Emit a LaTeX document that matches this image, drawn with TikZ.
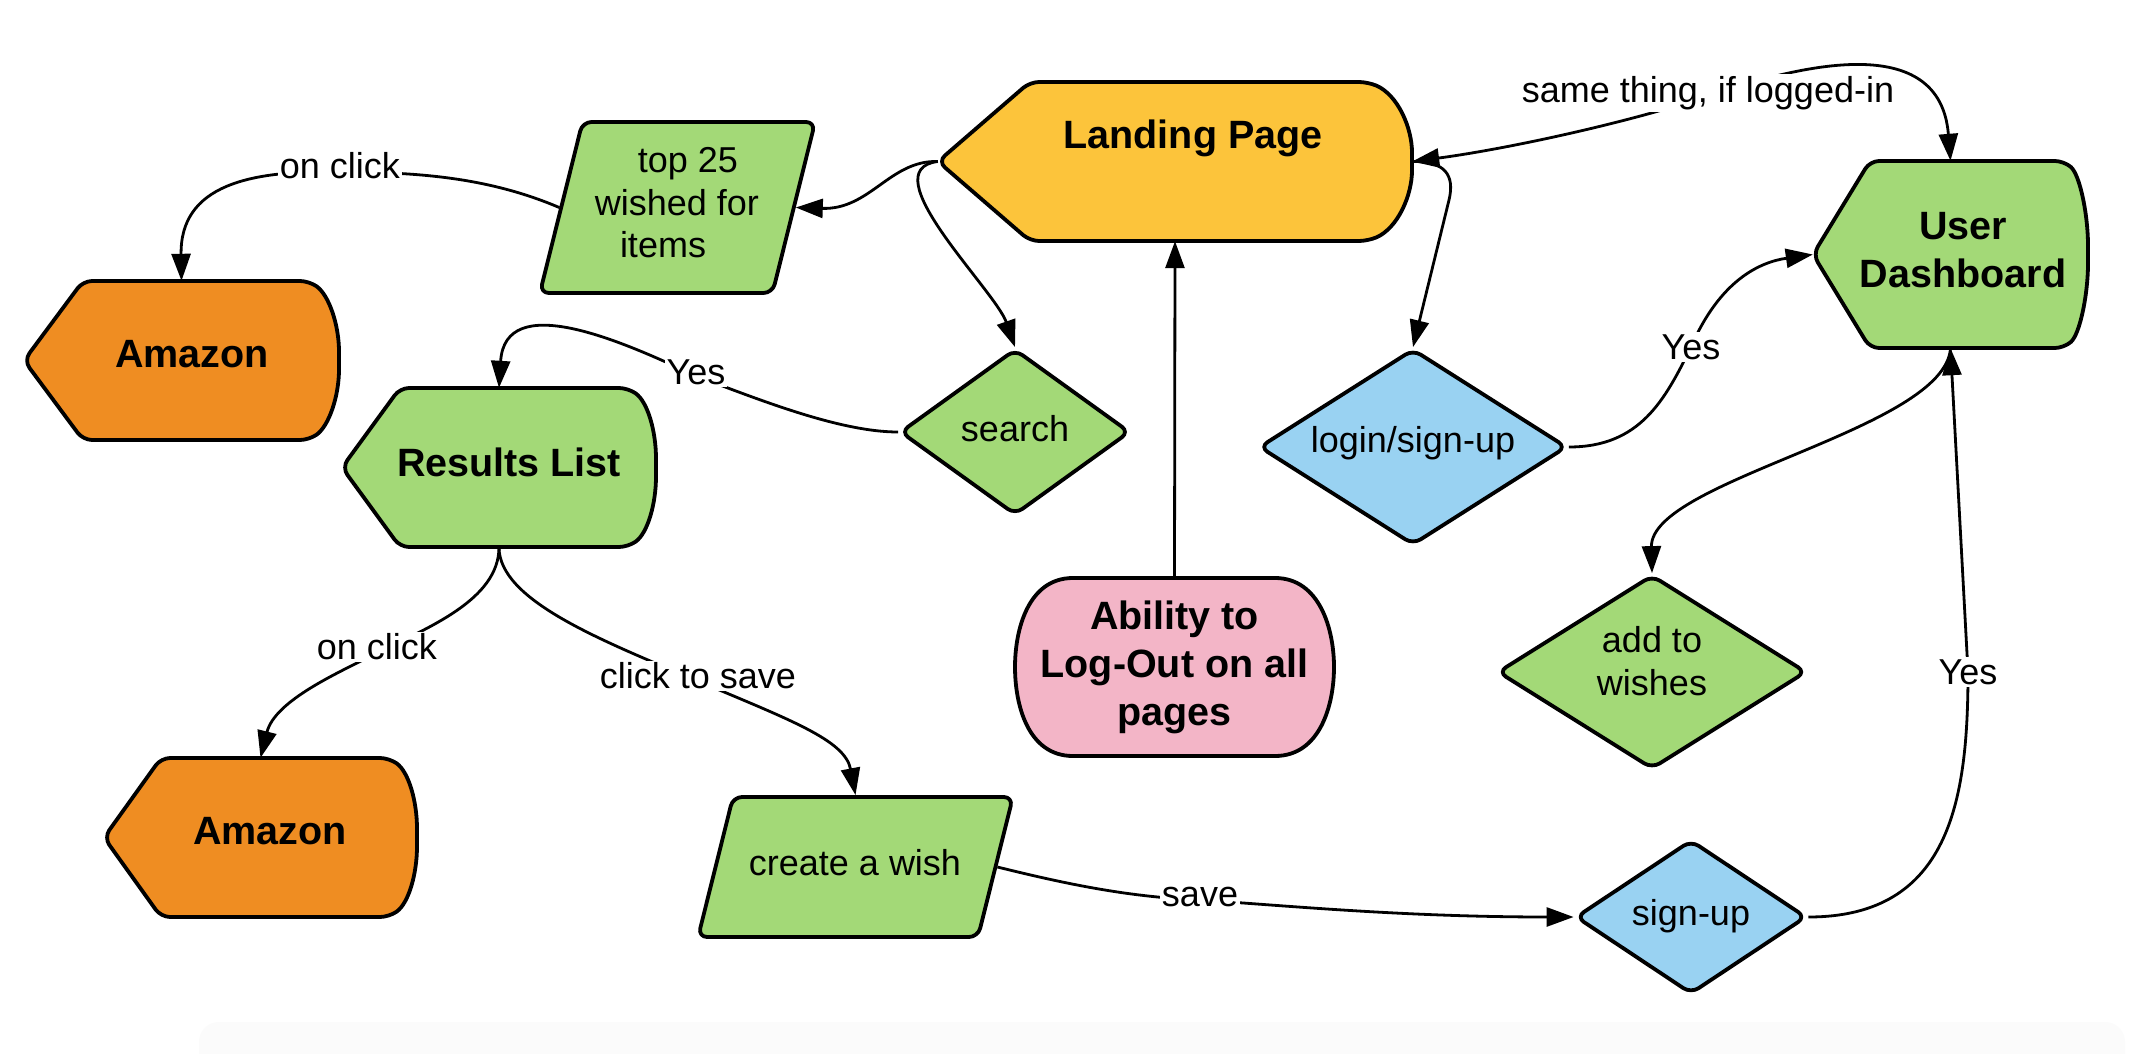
\documentclass[tikz,border=0pt]{standalone}
\usepackage{fontspec}
\setmainfont{Liberation Sans}
\usetikzlibrary{shapes.geometric,arrows.meta}
\definecolor{cyellow}{HTML}{FCC43B}
\definecolor{cgreen}{HTML}{A3D977}
\definecolor{corange}{HTML}{EF8D22}
\definecolor{cblue}{HTML}{99D2F2}
\definecolor{cpink}{HTML}{F3B5C7}
\begin{document}
\begin{tikzpicture}[x=1pt,y=-1pt,
  outline/.style={draw=black, line width=3.8pt, line join=round, rounded corners=9pt},
  box/.style={draw=none, inner sep=0pt, rectangle},
  title/.style={font=\fontsize{39.5}{48}\selectfont\bfseries, align=center, inner sep=0pt},
  body/.style={font=\fontsize{36}{42.5}\selectfont, align=center, inner sep=0pt},
  dia/.style={diamond, outline, inner sep=0pt},
  para/.style={trapezium, trapezium left angle=76, trapezium right angle=104, outline, inner sep=0pt},
  conn/.style={draw=black, line width=2.8pt, -{Triangle[length=27pt,width=19pt]}},
  lbl/.style={font=\fontsize{36}{42}\selectfont, fill=white, inner sep=2pt},
]
\useasboundingbox[fill=white] (0,0) rectangle (2150,1054);
\fill[black!1.5, rounded corners=20pt] (199,1022) rectangle (2125,1080);

% ---------- shapes ----------
% Landing Page
\draw[outline, fill=cyellow] (938,161.5) -- (1030,82) -- (1368,82) .. controls (1398,95) and (1412,128) .. (1412,161.5) .. controls (1412,195) and (1398,228) .. (1368,241) -- (1030,241) -- cycle;
\node[box, minimum width=474pt, minimum height=159pt] (lp) at (1175,161.5) {};
\node[title] (lpt) at (1193,138) {Landing Page};

% User Dashboard
\draw[outline, fill=cgreen] (1813,254.5) -- (1870,161) -- (2064,161) .. controls (2080,175) and (2088,215) .. (2088,254.5) .. controls (2088,294) and (2080,334) .. (2064,348) -- (1870,348) -- cycle;
\node[box, minimum width=275pt, minimum height=187pt] (ud) at (1950.5,254.5) {};
\node[title] (udt) at (1963,250) {User\\Dashboard};

% Amazon 1
\draw[outline, fill=corange] (24,360.5) -- (83,281) -- (309,281) .. controls (329,295) and (339,325) .. (339,360.5) .. controls (339,396) and (329,426) .. (309,440) -- (83,440) -- cycle;
\node[box, minimum width=315pt, minimum height=159pt] (am1) at (181.5,360.5) {};
\node[title] (am1t) at (192,354) {Amazon};

% Results List
\draw[outline, fill=cgreen] (342,467.5) -- (400,388) -- (628,388) .. controls (648,402) and (656,432) .. (656,467.5) .. controls (656,503) and (648,533) .. (628,547) -- (400,547) -- cycle;
\node[box, minimum width=314pt, minimum height=159pt] (res) at (499,467.5) {};
\node[title] (rest) at (509,462) {Results List};

% Amazon 2
\draw[outline, fill=corange] (104,837.5) -- (161,758) -- (389,758) .. controls (409,772) and (417,802) .. (417,837.5) .. controls (417,873) and (409,903) .. (389,917) -- (161,917) -- cycle;
\node[box, minimum width=313pt, minimum height=159pt] (am2) at (260.5,837.5) {};
\node[title] (am2t) at (270,831) {Amazon};

% Ability to Log-Out
\draw[outline, sharp corners, fill=cpink] (1073,578) -- (1275,578) .. controls (1320,578) and (1334,630) .. (1334,667) .. controls (1334,705) and (1320,756) .. (1275,756) -- (1073,756) .. controls (1028,756) and (1015,705) .. (1015,667) .. controls (1015,630) and (1028,578) .. (1073,578) -- cycle;
\node[box, minimum width=319pt, minimum height=178pt, title] (ab) at (1174.5,667) {Ability to\\Log-Out on all\\pages};

% parallelograms
\node[para, fill=cgreen] (t25) at (677.5,207.5) {\hbox to 190pt{\rule{0pt}{171pt}\hfil}};
\node[body] (t25t) at (677,203) {\hbox to 22pt{}top 25\\wished for\\items\hbox to 28pt{}};
\node[para, fill=cgreen] (cw) at (855.5,867) {\hbox to 245pt{\rule{0pt}{140pt}\hfil}};
\node[body] (cwt) at (855,863) {create a wish};

% diamonds
\node[dia, fill=cgreen, aspect=1.39, minimum width=230pt, minimum height=166pt] (search) at (1015,432) {};
\node[body] (searcht) at (1015,429) {search};
\node[dia, fill=cblue, aspect=1.57, minimum width=308pt, minimum height=196pt] (login) at (1413,447) {};
\node[body] (logint) at (1413,443) {login/sign-up};
\node[dia, fill=cgreen, aspect=1.6, minimum width=309pt, minimum height=194pt] (add) at (1652,672) {};
\node[body] (addt) at (1652,661) {add to\\wishes};
\node[dia, fill=cblue, aspect=1.5, minimum width=231pt, minimum height=154pt] (signup) at (1691,917) {};
\node[body] (signupt) at (1691,916) {sign-up};

% ---------- connectors ----------
\draw[conn] (lp.west) .. controls (890,160) and (870,210) .. (t25.east);
\draw[conn] (lp.west) .. controls (870,170) and (995,290) .. (search.north);
\draw[conn] (t25.west) .. controls (490,178) and (420,172) .. (340,172) node[lbl, yshift=6pt] (l1) {on click} .. controls (250,170) and (180,185) .. (am1.north);
\draw[conn] (search.west) .. controls (840,432) and (760,400) .. (696,376) node[lbl, yshift=4pt] (l2) {Yes} .. controls (620,340) and (505,290) .. (res.north);
\draw[conn] (res.south) .. controls (499,600) and (427,628) .. (377,653) node[lbl, yshift=6pt] (l3) {on click} .. controls (340,672) and (275,700) .. (am2.north);
\draw[conn] (res.south) .. controls (499,600) and (600,640) .. (698,681) node[lbl, yshift=5pt] (l4) {click to save} .. controls (790,720) and (845,740) .. (cw.north);
\draw[conn] (cw.east) .. controls (1070,885) and (1130,897) .. (1200,900) node[lbl, yshift=3pt] (l5) {save} .. controls (1280,905) and (1400,917) .. (signup.west);
\draw[conn] (signup.east) .. controls (1950,917) and (1968,800) .. (1968,672) node[lbl] (l6) {Yes} -- (ud.south);
\draw[conn] (ud.south) .. controls (1945,430) and (1650,480) .. (add.north);
\draw[conn] (login.east) .. controls (1640,447) and (1665,400) .. (1691,347) node[lbl] (l7) {Yes} .. controls (1720,280) and (1760,262) .. (ud.west);
\draw[conn] (lp.east) .. controls (1445,161) and (1455,175) .. (1449,200) -- (login.north);
\draw[conn, {Triangle[length=27pt,width=19pt]}-{Triangle[length=27pt,width=19pt]}] (lp.east) .. controls (1500,150) and (1620,125) .. (1708,96) node[lbl, yshift=3pt] (l8) {same thing, if logged-in} .. controls (1800,65) and (1940,30) .. (ud.north);
\draw[conn] (ab.north) -- (lp.south);
\end{tikzpicture}
\end{document}
